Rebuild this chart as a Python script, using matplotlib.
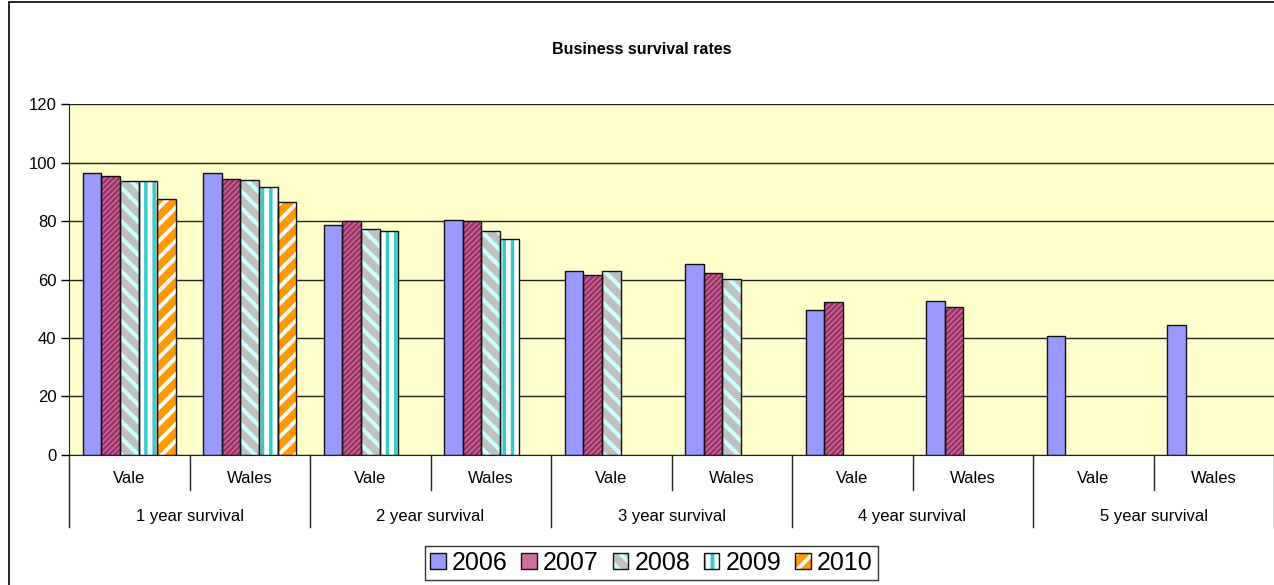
"""
Business survival rates: Vale vs Wales, 1-5 year survival,
grouped bars per cohort year (Excel-style chart recreation).
"""

import numpy as np
import matplotlib
matplotlib.use("Agg")
import matplotlib.pyplot as plt
from matplotlib.patches import Patch, Rectangle
from matplotlib.lines import Line2D

# Data
groups = ['1 year survival', '2 year survival', '3 year survival',
          '4 year survival', '5 year survival']
areas = ['Vale', 'Wales']
years = ['2006', '2007', '2008', '2009', '2010']
nan = np.nan
v2006 = [96.6, 96.6, 78.7, 80.5, 63.0, 65.3, 49.6, 52.6, 40.7, 44.4]
v2007 = [95.3, 94.5, 80.0, 80.0, 61.6, 62.2, 52.3, 50.6, nan, nan]
v2008 = [93.8, 94.2, 77.2, 76.6, 63.0, 60.1, nan, nan, nan, nan]
v2009 = [93.8, 91.8, 76.7, 73.9, nan, nan, nan, nan, nan, nan]
v2010 = [87.6, 86.6, nan, nan, nan, nan, nan, nan, nan, nan]
series = [v2006, v2007, v2008, v2009, v2010]
yticks = [0, 20, 40, 60, 80, 100, 120]

# Styles: face colour, hatch pattern, hatch colour, hatch linewidth
styles = [
    ('#9999FF', '', '#9999FF', 1.0),
    ('#993366', '//////', '#D070A0', 1.0),
    ('#C0C0C0', '\\\\', '#CCFFFF', 3.0),
    ('#FFFFFF', '||', '#33CCCC', 2.5),
    ('#FF9900', '//', '#FFFFFF', 2.8),
]

plt.rcParams['font.family'] = ['Liberation Sans', 'DejaVu Sans']

W, H = 1274, 585
fig = plt.figure(figsize=(W / 100, H / 100), dpi=100, facecolor='white')

x0, x1 = 69, 1274
ybot, ytop = 454.7, 104.3
ax = fig.add_axes([x0 / W, (H - ybot) / H, (x1 - x0) / W, (ybot - ytop) / H])
ax.set_facecolor('#FFFFCC')

n_cat = len(groups) * len(areas)
idx = np.arange(n_cat)
bw = 1 / 6.5

handles = []
for k, (vals, (face, hatch, hcol, hlw)) in enumerate(zip(series, styles)):
    xs = idx + (0.75 + k + 0.5) * bw
    plt.rcParams['hatch.linewidth'] = hlw
    ax.bar(xs, vals, bw, color=face, hatch=hatch, edgecolor=hcol, linewidth=0, zorder=2)
    ax.bar(xs, vals, bw, fill=False, edgecolor='#111111', linewidth=1.0, zorder=3)
    h1 = Patch(facecolor=face, hatch=hatch, edgecolor=hcol, linewidth=0)
    h2 = Patch(fill=False, edgecolor='#111111', linewidth=1.0)
    handles.append((h1, h2))

ax.set_xlim(0, n_cat)
ax.set_ylim(0, 120)
ax.set_yticks(yticks)
ax.set_yticklabels([str(t) for t in yticks], fontsize=12)
ax.tick_params(axis='y', direction='out', length=6, width=1, pad=3)
ax.set_xticks([])
ax.yaxis.grid(True, color='#222222', linewidth=1.0, zorder=1)
ax.set_axisbelow(True)
for side in ['top', 'right']:
    ax.spines[side].set_visible(False)
ax.spines['left'].set_color('#222222')
ax.spines['bottom'].set_color('#222222')

# Two-level category axis
trans = ax.get_xaxis_transform()
px = 1 / (ybot - ytop)
for i in range(n_cat + 1):
    depth = 72 if i % 2 == 0 else 35
    ax.add_line(Line2D([i, i], [0, -depth * px], transform=trans, color='#222222',
                       linewidth=1.0, clip_on=False))
for i in range(n_cat):
    ax.text(i + 0.5, -24 * px, areas[i % 2], transform=trans, ha='center', va='center',
            fontsize=12)
for g, name in enumerate(groups):
    ax.text(2 * g + 1, -62 * px, name, transform=trans, ha='center', va='center',
            fontsize=12)

fig.text(642 / W, 1 - 50 / H, 'Business survival rates', ha='center', va='center',
         fontsize=11.5, fontweight='bold')

# Outer chart border
fig.patches.append(Rectangle((9 / W, -0.05), 1.2, 1 - 1.5 / H + 0.05,
                             transform=fig.transFigure, fill=False,
                             edgecolor='black', linewidth=1.2))

leg = fig.legend(handles, years, loc='upper left', bbox_to_anchor=(425 / W, 1 - 546 / H),
                 ncol=5, fontsize=18, frameon=True, fancybox=False, edgecolor='black',
                 handlelength=0.62, handleheight=0.62, handletextpad=0.25,
                 columnspacing=0.55, borderpad=0.2, borderaxespad=0)
leg.get_frame().set_linewidth(1.0)

fig.savefig('out.png', dpi=100)
